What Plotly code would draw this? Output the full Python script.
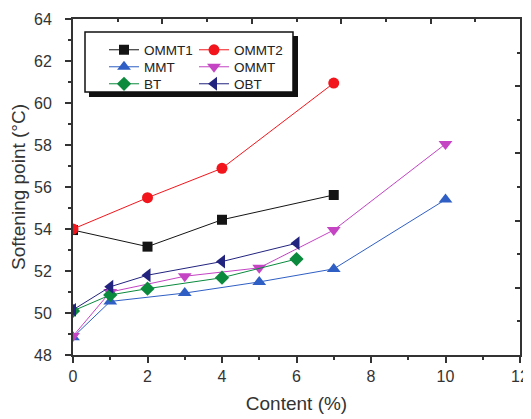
import plotly.graph_objects as go

# ---- data ----
x_ommt1 = [0, 2, 4, 7]
y_ommt1 = [53.95, 53.16, 54.44, 55.62]

x_ommt2 = [0, 2, 4, 7]
y_ommt2 = [54.0, 55.49, 56.89, 60.95]

x_mmt = [0, 1, 3, 5, 7, 10]
y_mmt = [48.85, 50.55, 50.95, 51.48, 52.1, 55.4]

x_ommt = [0, 1, 3, 5, 7, 10]
y_ommt = [48.9, 51.0, 51.75, 52.15, 53.95, 58.05]

x_bt = [0, 1, 2, 4, 6]
y_bt = [50.1, 50.86, 51.16, 51.68, 52.57]

x_obt = [0, 1, 2, 4, 6]
y_obt = [50.15, 51.25, 51.8, 52.45, 53.32]

names = ["OMMT1", "OMMT2", "MMT", "OMMT", "BT", "OBT"]
colors = ["#141414", "#f2161c", "#2f5fc4", "#c444c4", "#0b8a3e", "#22237f"]
symbols = ["square", "circle", "triangle-up", "triangle-down", "diamond", "triangle-left"]
sizes = [10, 11, 12, 12, 11, 12]
legends = ["legend", "legend2", "legend3", "legend4", "legend5", "legend6"]

xs = [x_ommt1, x_ommt2, x_mmt, x_ommt, x_bt, x_obt]
ys = [y_ommt1, y_ommt2, y_mmt, y_ommt, y_bt, y_obt]

FONT = "Liberation Sans, Arial, sans-serif"
TXT = "#333333"
OFF = 8  # default page body margin
W, H = 531 - OFF, 419 - OFF
ML, MR, MT, MB = 65, 11, 11, 64
PW, PH = W - ML - MR, H - MT - MB


def px(x):
    return (x - OFF - ML) / PW


def py(y):
    return (H - MB - (y - OFF)) / PH


fig = go.Figure()
for n, c, s, sz, lg, x, y in zip(names, colors, symbols, sizes, legends, xs, ys):
    fig.add_trace(go.Scatter(
        x=x, y=y, name=n, mode="lines+markers",
        line=dict(color=c, width=1),
        marker=dict(symbol=s, size=sz, color=c, line=dict(width=0)),
        legend=lg, showlegend=True,
    ))

# empty trace to activate mirrored top/right axes
fig.add_trace(go.Scatter(x=[], y=[], xaxis="x2", yaxis="y2", showlegend=False))

axis_common = dict(
    showgrid=False, zeroline=False, automargin=False,
    showline=True, linecolor="#333333", linewidth=2,
    tickcolor="#333333", tickwidth=1.5,
    tickfont=dict(family=FONT, size=16, color=TXT),
)


def leg(xpix, ypix):
    return dict(
        x=px(xpix), y=py(ypix), xanchor="left", yanchor="middle",
        bgcolor="rgba(0,0,0,0)", borderwidth=0,
        font=dict(family=FONT, size=13.5, color="#222222"),
        itemwidth=30,
    )


fig.update_layout(
    width=W, height=H,
    showlegend=True,
    margin=dict(l=ML, r=MR, t=MT, b=MB, autoexpand=False),
    paper_bgcolor="white", plot_bgcolor="white",
    font=dict(family=FONT, color=TXT),
    xaxis=dict(
        range=[0, 12], dtick=2, tick0=0, ticks="outside", ticklen=6,
        minor=dict(dtick=1, ticks="outside", ticklen=3, tickcolor="#333333"),
        mirror=True,
        title=dict(text="Content (%)", font=dict(family=FONT, size=19, color=TXT), standoff=12),
        **axis_common,
    ),
    yaxis=dict(
        range=[48, 64], dtick=2, tick0=48, ticks="outside", ticklen=6,
        minor=dict(dtick=1, ticks="outside", ticklen=3, tickcolor="#333333"),
        mirror=True, ticklabelstandoff=10,
        title=dict(text="Softening point (°C)", font=dict(family=FONT, size=19, color=TXT), standoff=10),
        **axis_common,
    ),
    xaxis2=dict(
        overlaying="x", side="top", range=[0, 10], dtick=2, tick0=0,
        ticks="inside", ticklen=5, tickcolor="#333333", tickwidth=1.5,
        minor=dict(dtick=1, ticks="inside", ticklen=3, tickcolor="#333333"),
        showticklabels=False, showgrid=False, zeroline=False, showline=False, automargin=False,
    ),
    yaxis2=dict(
        overlaying="y", side="right", range=[0, 10], dtick=2, tick0=0,
        ticks="inside", ticklen=5, tickcolor="#333333", tickwidth=1.5,
        minor=dict(dtick=1, ticks="inside", ticklen=3, tickcolor="#333333"),
        showticklabels=False, showgrid=False, zeroline=False, showline=False, automargin=False,
    ),
    legend=leg(104, 50),
    legend2=leg(194, 50),
    legend3=leg(104, 67),
    legend4=leg(194, 67),
    legend5=leg(104, 84),
    legend6=leg(194, 84),
    shapes=[
        dict(type="rect", xref="paper", yref="paper", layer="above",
             x0=px(89), x1=px(298), y0=py(36), y1=py(97),
             fillcolor="#111111", line=dict(width=0)),
        dict(type="rect", xref="paper", yref="paper", layer="above",
             x0=px(85), x1=px(293), y0=py(32), y1=py(92),
             fillcolor="white", line=dict(color="#111111", width=1.5)),
    ],
)

fig.write_html("out.html")
